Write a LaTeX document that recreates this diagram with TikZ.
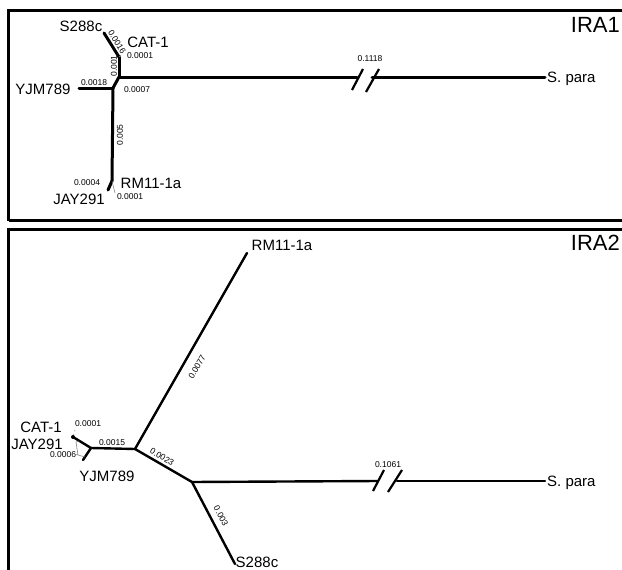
\documentclass[tikz,border=0pt]{standalone}
\usepackage{fontspec}
\setmainfont{Liberation Sans}
\begin{document}
\begin{tikzpicture}[x=1pt,y=-1pt]
\tikzstyle{every node}=[inner sep=0pt]
\tikzstyle{taxon}=[font=\fontsize{15}{15}\selectfont]
\tikzstyle{blen}=[font=\fontsize{8.5}{8.5}\selectfont]
\tikzstyle{panel}=[font=\fontsize{22}{22}\selectfont]
\tikzstyle{branch}=[line width=3pt,line cap=round]
\tikzstyle{branchb}=[line width=2.4pt,line cap=round]
\tikzstyle{twig}=[line width=0.6pt,gray]
\useasboundingbox (0,0) rectangle (622,570);

\draw[line width=3pt] (8.5,221) -- (8.5,10) -- (630,10);
\draw[line width=3pt] (8.5,220) -- (630,220);
\draw[line width=3pt] (630,229) -- (8.5,229) -- (8.5,580);

\coordinate (a) at (119,57);
\coordinate (b) at (119,77);
\coordinate (c) at (113,88);
\coordinate (h) at (112,181);
\coordinate (s288c) at (104,33);
\coordinate (cat) at (121,55);
\coordinate (yjm) at (79,88);
\coordinate (jay) at (108,190);
\coordinate (rm) at (115,193);
\coordinate (bk1) at (357,77);
\coordinate (bk2) at (372,77);
\coordinate (spara) at (545,77);

\foreach \from/\to in {a/s288c,a/b,b/c,c/yjm,c/h,h/jay,b/bk1,bk2/spara}
\draw [branch] (\from) -- (\to);
\foreach \from/\to in {a/cat,h/rm}
\draw [twig] (\from) -- (\to);
\draw [line width=2.2pt] (352,90) -- (363,69) (366,92) -- (379,69);

\node[taxon] (ls288c) at (81,26) {S288c};
\node[taxon] (lcat) at (148,42) {CAT-1};
\node[taxon] (lyjm) at (43,89) {YJM789};
\node[taxon] (lrm) at (151,183) {RM11-1a};
\node[taxon] (ljay) at (79,199) {JAY291};
\node[taxon,anchor=base west] (lspara) at (547,82) {S. para};
\node[blen] (l1) at (140,56) {0.0001};
\node[blen,rotate=-59] (l2) at (117,42) {0.0016};
\node[blen,rotate=90] (l3) at (114,66) {0.001};
\node[blen] (l4) at (94,83) {0.0018};
\node[blen] (l5) at (137,90) {0.0007};
\node[blen,rotate=90] (l6) at (120,135) {0.005};
\node[blen] (l7) at (87,183) {0.0004};
\node[blen] (l8) at (130,197) {0.0001};
\node[blen] (l9) at (370,59) {0.1118};
\node[panel,anchor=base east] (ira1) at (620,32) {IRA1};

\coordinate (C) at (135,449);
\coordinate (D) at (192,482);
\coordinate (E) at (91,448);
\coordinate (F) at (73,437);
\coordinate (RMb) at (247,253);
\coordinate (Sb) at (235,564);
\coordinate (YJb) at (83,460);
\coordinate (CATb) at (75,430);
\coordinate (bk3) at (378,481);
\coordinate (bk4) at (397,481);
\coordinate (sparb) at (545,481);

\foreach \from/\to in {C/RMb,C/D,D/bk3,bk4/sparb,D/Sb,C/E,E/F,E/YJb}
\draw [branchb] (\from) -- (\to);
\draw [twig,dashed] (F) -- (CATb);
\fill (F) circle (2pt);
\draw [line width=2.2pt] (373,491) -- (384,470) (388,492) -- (402,470);

\node[taxon] (LRM) at (282,245) {RM11-1a};
\node[taxon] (LS) at (257,562) {S288c};
\node[taxon] (LCAT) at (41,427) {CAT-1};
\node[taxon] (LJAY) at (37,444) {JAY291};
\node[taxon] (LYJM) at (107,476) {YJM789};
\node[taxon,anchor=base west] (LSP) at (547,486) {S. para};
\node[blen] (m1) at (88,424) {0.0001};
\node[blen] (m2) at (63,454.5) {0.0006};
\node[blen] (m3) at (112,443) {0.0015};
\node[blen,rotate=-31] (m4) at (162,457) {0.0023};
\node[blen,rotate=60] (m5) at (197,367) {0.0077};
\node[blen,rotate=-62] (m6) at (221,516) {0.003};
\node[blen] (m7) at (388,465) {0.1061};
\node[panel,anchor=base east] (ira2) at (620,250) {IRA2};
\draw [twig] (m2.east) -- (78,455) -- (85,457) (78,455) -- (76,442) -- (79,441);

\end{tikzpicture}
\end{document}
